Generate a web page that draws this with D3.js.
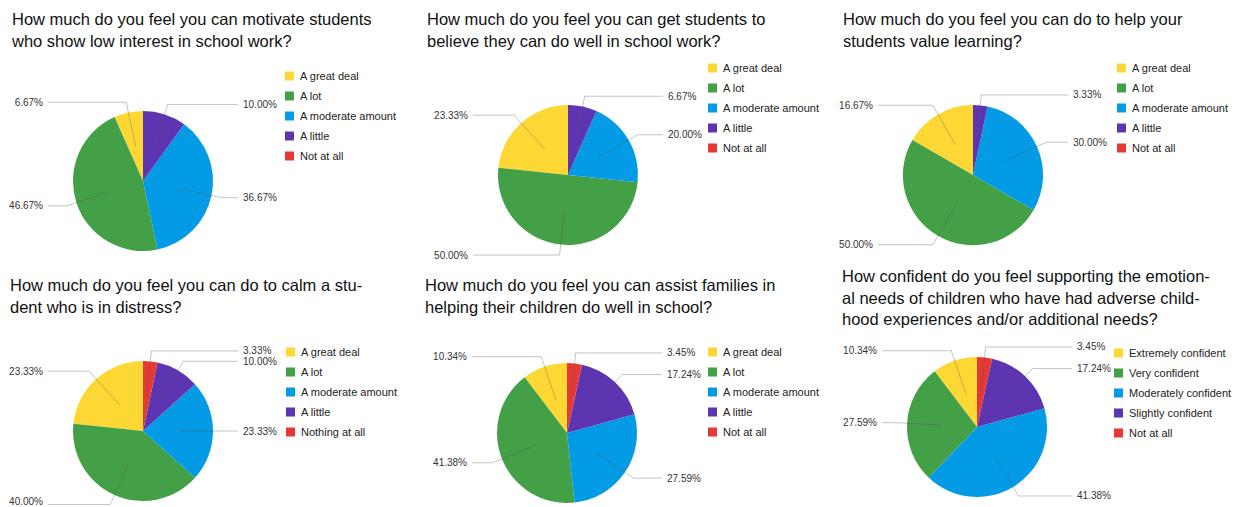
<!DOCTYPE html>
<html>
<head>
<meta charset="utf-8">
<script src="https://cdn.jsdelivr.net/npm/d3@7"></script>
<style>
  body { margin: 0; background: #fff; }
  svg { font-family: "Liberation Sans", Arial, sans-serif; }
</style>
</head>
<body>
<div id="chart"></div>
<script>
// answer categories
var levelCats = ["A great deal", "A lot", "A moderate amount", "A little", "Not at all"];
var calmCats = ["A great deal", "A lot", "A moderate amount", "A little", "Nothing at all"];
var confCats = ["Extremely confident", "Very confident", "Moderately confident", "Slightly confident", "Not at all"];

// percentages per question (same order as categories)
var motivateVals = [6.67, 46.67, 36.67, 10.00, 0];
var believeVals = [23.33, 50.00, 20.00, 6.67, 0];
var valueVals = [16.67, 50.00, 30.00, 3.33, 0];
var calmVals = [23.33, 40.00, 23.33, 10.00, 3.33];
var familyVals = [10.34, 41.38, 27.59, 17.24, 3.45];
var emotionVals = [10.34, 27.59, 41.38, 17.24, 3.45];

var titles = [
    ["How much do you feel you can motivate students", "who show low interest in school work?"],
    ["How much do you feel you can get students to", "believe they can do well in school work?"],
    ["How much do you feel you can do to help your", "students value learning?"],
    ["How much do you feel you can do to calm a stu-", "dent who is in distress?"],
    ["How much do you feel you can assist families in", "helping their children do well in school?"],
    ["How confident do you feel supporting the emotion-", "al needs of children who have had adverse child-", "hood experiences and/or additional needs?"]
];

var colors = ["#fdd835", "#43a047", "#039be5", "#5e35b1", "#e53935"];

// layout of the six panels
var panels = [
    {cats: levelCats, vals: motivateVals, tx: 12, ty: 25, cx: 143, cy: 181, lx: 285, ly: 76},
    {cats: levelCats, vals: believeVals, tx: 427, ty: 25, cx: 568, cy: 175, lx: 708, ly: 68},
    {cats: levelCats, vals: valueVals, tx: 843, ty: 25, cx: 973, cy: 175, lx: 1117, ly: 68},
    {cats: calmCats, vals: calmVals, tx: 10, ty: 291, cx: 143, cy: 431, lx: 286, ly: 352},
    {cats: levelCats, vals: familyVals, tx: 425, ty: 291, cx: 567, cy: 433, lx: 708, ly: 352},
    {cats: confCats, vals: emotionVals, tx: 842, ty: 282, cx: 977, cy: 427, lx: 1114, ly: 353}
];

var W = 1241, H = 507, r = 70;

var svg = d3.select("#chart").append("svg")
    .attr("width", W)
    .attr("height", H);

var color = d3.scaleOrdinal().domain([0, 1, 2, 3, 4]).range(colors);

// clockwise from top: last category first
var pie = d3.pie()
    .value(function(d) { return d.v; })
    .sort(function(a, b) { return b.i - a.i; });

var arc = d3.arc().innerRadius(0).outerRadius(r);

panels.forEach(function(p, k) {
    var data = p.vals.map(function(v, i) { return {v: v, i: i, name: p.cats[i]}; });
    var arcs = pie(data);

    // title
    var t = svg.append("text")
        .attr("x", p.tx)
        .attr("y", p.ty)
        .attr("font-size", "16.5px")
        .attr("fill", "#111");
    titles[k].forEach(function(line, j) {
        t.append("tspan")
            .attr("x", p.tx)
            .attr("dy", j == 0 ? 0 : 21.7)
            .text(line);
    });

    var g = svg.append("g")
        .attr("transform", "translate(" + p.cx + "," + p.cy + ")");

    g.selectAll("path.slice")
        .data(arcs.filter(function(d) { return d.data.v > 0; }))
        .enter().append("path")
        .attr("class", "slice")
        .attr("d", arc)
        .attr("fill", function(d) { return color(d.data.i); });

    // leader lines + labels
    arcs.filter(function(d) { return d.data.v > 0; }).forEach(function(d) {
        var a = (d.startAngle + d.endAngle) / 2;
        var sx = Math.sin(a), sy = -Math.cos(a);
        var inner = [sx * r * 0.5, sy * r * 0.5];
        var bend = [sx * r * 1.15, sy * r * 1.15];
        var right = sx >= 0;
        var endX = right ? 95 : -95;
        g.append("path")
            .attr("d", "M" + inner + "L" + bend + "L" + endX + "," + bend[1])
            .attr("fill", "none")
            .attr("stroke", "#555")
            .attr("stroke-opacity", 0.35)
            .attr("stroke-width", 1);
        // keep label inside the picture
        var ly = Math.min(bend[1], H - 6 - p.cy);
        g.append("text")
            .attr("x", right ? 100 : -100)
            .attr("y", ly)
            .attr("dy", "0.35em")
            .attr("text-anchor", right ? "start" : "end")
            .attr("font-size", "10px")
            .attr("fill", "#333")
            .text(d.data.v.toFixed(2) + "%");
    });

    // legend
    var leg = svg.append("g")
        .attr("transform", "translate(" + p.lx + "," + p.ly + ")");
    var rows = leg.selectAll("g")
        .data(data)
        .enter().append("g")
        .attr("transform", function(d, i) { return "translate(0," + i * 20 + ")"; });
    rows.append("rect")
        .attr("x", 0)
        .attr("y", -4.5)
        .attr("width", 9)
        .attr("height", 9)
        .attr("fill", function(d) { return color(d.i); });
    rows.append("text")
        .attr("x", 15)
        .attr("dy", "0.35em")
        .attr("font-size", "11px")
        .attr("fill", "#222")
        .text(function(d) { return d.name; });
});
</script>
</body>
</html>
